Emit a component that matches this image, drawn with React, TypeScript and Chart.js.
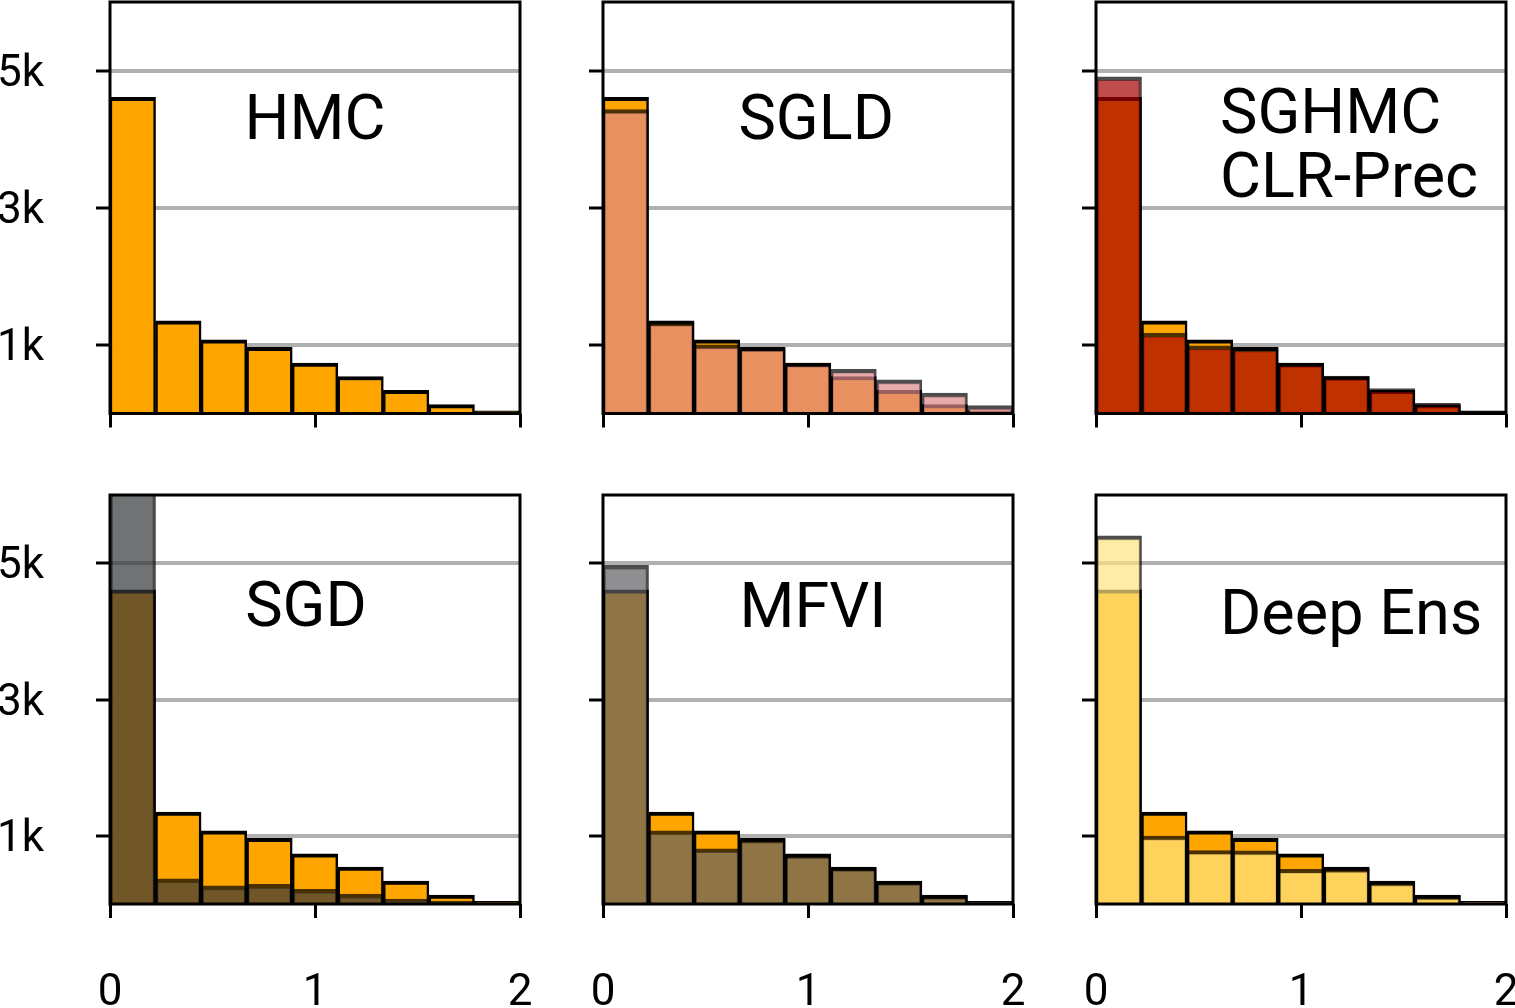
import React, { useEffect, useRef } from 'react';
import { Chart, registerables } from 'chart.js';

Chart.register(...registerables);

// ---- data ----
const BIN_EDGES = [0, 0.2222, 0.4444, 0.6667, 0.8889, 1.1111, 1.3333, 1.5556, 1.7778, 2];
const HMC = [4610, 1350, 1075, 965, 735, 540, 338, 130, 40];
const SGLD = [4430, 1330, 1000, 960, 735, 645, 490, 296, 115];
const SGHMC_CLR_PREC = [4910, 1170, 985, 955, 735, 545, 365, 150, 35];
const SGD = [6300, 370, 265, 287, 217, 145, 72, 42, 20];
const MFVI = [4970, 1075, 810, 950, 725, 535, 330, 125, 40];
const DEEP_ENS = [5400, 995, 785, 780, 510, 520, 320, 120, 35];
const Y_TICKS = [1000, 3000, 5000];
const X_TICKS = [0, 1, 2];
const Y_MAX = 6000;

const TITLE_HMC = ['HMC'];
const TITLE_SGLD = ['SGLD'];
const TITLE_SGHMC = ['SGHMC', 'CLR-Prec'];
const TITLE_SGD = ['SGD'];
const TITLE_MFVI = ['MFVI'];
const TITLE_DE = ['Deep Ens'];

// ---- layout / style ----
const W = 1515;
const H = 1008;
const Y_AXIS_W = 110;
const X_AXIS_H = 104;
const COLS = [
  { left: 110, right: 520 },
  { left: 603, right: 1013 },
  { left: 1096, right: 1506 },
];
const ROWS = [
  { top: 2, bottom: 413.5 },
  { top: 495, bottom: 904 },
];
const FONT = 'Roboto, "DejaVu Sans", sans-serif';
const HMC_COLOR = '#FFA500';

type PanelCfg = {
  row: number;
  col: number;
  title: string[];
  titleX: number;
  titleY: number[];
  align: CanvasTextAlign;
  overlay: number[] | null;
  color: string;
};

const PANELS: PanelCfg[] = [
  { row: 0, col: 0, title: TITLE_HMC, titleX: 1.0, titleY: [4000], align: 'center', overlay: null, color: '' },
  { row: 0, col: 1, title: TITLE_SGLD, titleX: 1.04, titleY: [4000], align: 'center', overlay: SGLD, color: 'rgba(222,136,137,0.7)' },
  { row: 0, col: 2, title: TITLE_SGHMC, titleX: 0.605, titleY: [4090, 3150], align: 'left', overlay: SGHMC_CLR_PREC, color: 'rgba(165,0,0,0.7)' },
  { row: 1, col: 0, title: TITLE_SGD, titleX: 0.956, titleY: [4080], align: 'center', overlay: SGD, color: 'rgba(52,54,57,0.7)' },
  { row: 1, col: 1, title: TITLE_MFVI, titleX: 1.024, titleY: [4070], align: 'center', overlay: MFVI, color: 'rgba(95,96,100,0.7)' },
  { row: 1, col: 2, title: TITLE_DE, titleX: 0.605, titleY: [3960], align: 'left', overlay: DEEP_ENS, color: 'rgba(255,229,129,0.7)' },
];

const CENTERS = BIN_EDGES.slice(0, -1).map((e, i) => (e + BIN_EDGES[i + 1]) / 2);

const panelPlugin = {
  id: 'panelDecor',
  afterDatasetsDraw(chart: any, _args: any, opts: any) {
    const { ctx, chartArea } = chart;
    ctx.save();
    ctx.strokeStyle = '#000';
    ctx.lineWidth = 3;
    ctx.strokeRect(chartArea.left, chartArea.top, chartArea.right - chartArea.left, chartArea.bottom - chartArea.top);
    const xs = chart.scales.x;
    const ys = chart.scales.y;
    ctx.fillStyle = '#000';
    ctx.font = `63px ${FONT}`;
    ctx.textAlign = opts.align;
    ctx.textBaseline = 'alphabetic';
    const px = xs.getPixelForValue(opts.x);
    opts.lines.forEach((t: string, i: number) => {
      ctx.fillText(t, px, ys.getPixelForValue(opts.ys[i]));
    });
    ctx.restore();
  },
};

function barStyle(bg: string, border: string) {
  return {
    backgroundColor: bg,
    borderColor: border,
    borderWidth: { top: 4, left: 2.5, right: 2.5, bottom: 0 },
    borderSkipped: false as any,
    grouped: false,
    barPercentage: 1,
    categoryPercentage: 1,
  };
}

function Panel({ cfg }: { cfg: PanelCfg }) {
  const ref = useRef<HTMLCanvasElement>(null);
  useEffect(() => {
    if (!ref.current) return;
    const col = COLS[cfg.col];
    const row = ROWS[cfg.row];
    const showY = cfg.col === 0;
    const showX = cfg.row === 1;
    const datasets: any[] = [];
    if (cfg.overlay) {
      datasets.push({
        label: cfg.title.join(' '),
        data: cfg.overlay.map((v, i) => ({ x: CENTERS[i], y: v })),
        order: 0,
        ...barStyle(cfg.color, 'rgba(0,0,0,0.7)'),
      });
    }
    datasets.push({
      label: 'HMC',
      data: HMC.map((v, i) => ({ x: CENTERS[i], y: v })),
      order: 1,
      ...barStyle(HMC_COLOR, '#000'),
    });
    const chart = new Chart(ref.current, {
      type: 'bar',
      data: { datasets },
      plugins: [panelPlugin],
      options: {
        responsive: false,
        animation: false,
        events: [],
        layout: {
          padding: {
            left: col.left - Y_AXIS_W,
            right: W - col.right,
            top: row.top,
            bottom: H - row.bottom - X_AXIS_H,
          },
        },
        plugins: {
          legend: { display: false },
          tooltip: { enabled: false },
          panelDecor: { lines: cfg.title, x: cfg.titleX, ys: cfg.titleY, align: cfg.align },
        } as any,
        scales: {
          x: {
            type: 'linear',
            min: 0,
            max: 2,
            offset: false,
            afterBuildTicks: (s: any) => {
              s.ticks = X_TICKS.map((v) => ({ value: v }));
            },
            afterFit: (s: any) => {
              s.height = X_AXIS_H;
              s.paddingLeft = 0;
              s.paddingRight = 0;
            },
            grid: {
              drawOnChartArea: false,
              offset: false,
              tickLength: 14,
              tickWidth: 3,
              tickColor: '#000',
            },
            border: { display: false },
            ticks: {
              color: showX ? '#000' : 'rgba(0,0,0,0)',
              font: { family: FONT, size: 44 },
              padding: 50,
              maxRotation: 0,
              autoSkip: false,
              callback: (v: any) => String(v),
            },
          },
          y: {
            type: 'linear',
            min: 0,
            max: Y_MAX,
            afterBuildTicks: (s: any) => {
              s.ticks = Y_TICKS.map((v) => ({ value: v }));
            },
            afterFit: (s: any) => {
              s.width = Y_AXIS_W;
              s.paddingTop = 0;
              s.paddingBottom = 0;
            },
            grid: {
              color: '#b0b0b0',
              lineWidth: 4,
              tickLength: 14,
              tickWidth: 3,
              tickColor: '#000',
            },
            border: { display: false },
            ticks: {
              color: showY ? '#000' : 'rgba(0,0,0,0)',
              font: { family: FONT, size: 44 },
              padding: 52,
              labelOffset: 4,
              autoSkip: false,
              callback: (v: any) => `${Number(v) / 1000}k`,
            },
          },
        },
      } as any,
    });
    return () => chart.destroy();
  }, [cfg]);
  return (
    <canvas
      ref={ref}
      width={W}
      height={H}
      style={{ position: 'absolute', left: 0, top: 0, width: W, height: H, pointerEvents: 'none' }}
    />
  );
}

export default function App() {
  return (
    <div style={{ position: 'absolute', left: 0, top: 0, width: W, height: H, background: '#fff', overflow: 'hidden' }}>
      {PANELS.map((p, i) => (
        <Panel key={i} cfg={p} />
      ))}
    </div>
  );
}
